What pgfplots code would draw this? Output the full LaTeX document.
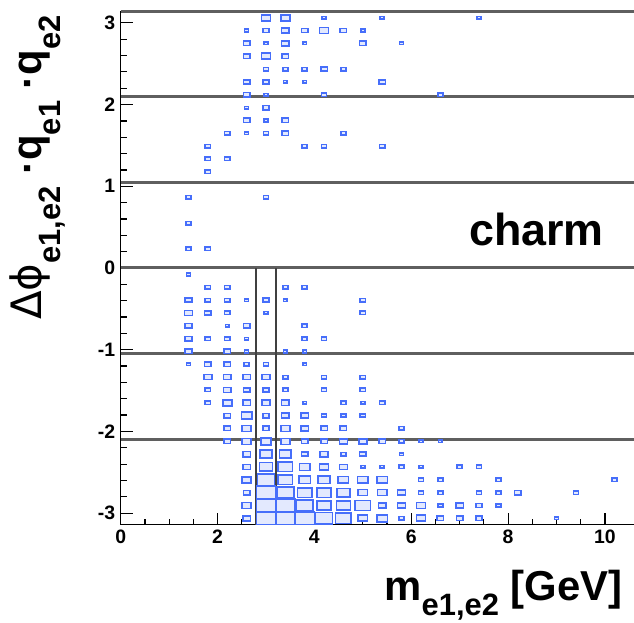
\documentclass[border=0pt]{standalone}
\usepackage{pgfplots}
\pgfplotsset{compat=1.18}
\usepackage{fontspec}
\setmainfont{Liberation Sans}
\newfontfamily\greekfont{DejaVu Sans}

\definecolor{boxblue}{RGB}{70,110,250}
\definecolor{sepgray}{RGB}{95,95,95}

% ROOT-style box: rectangle with the aspect ratio of one bin
\pgfdeclareplotmark{rbox}{%
  \pgfsetlinewidth{1.6bp}%
  \pgfpathrectangle{\pgfqpoint{-1.51\pgfplotmarksize}{-\pgfplotmarksize}}%
                   {\pgfqpoint{3.02\pgfplotmarksize}{2\pgfplotmarksize}}%
  \pgfusepathqfillstroke}

\newcommand{\tickfont}{\fontsize{19.5}{20}\selectfont\bfseries}
\newcommand{\labfont}{\fontsize{42}{46}\selectfont\bfseries}
\newcommand{\ysub}[1]{\raisebox{-0.45em}{\fontsize{31}{31}\selectfont #1}}
\newcommand{\xsub}[1]{\raisebox{-0.36em}{\fontsize{31}{31}\selectfont #1}}

\begin{document}
\begin{tikzpicture}
\begin{axis}[
    name=ax,
    scale only axis, width=513.3bp, height=513.4bp,
    xmin=0, xmax=10.6, ymin=-3.1416, ymax=3.1416,
    axis lines*=left,
    axis line style={-, line width=1.4bp, black},
    tick align=inside,
    xtick={0,2,4,6,8,10}, xticklabels={0,2,4,6,8,10},
    ytick={-3,-2,-1,0,1,2,3}, yticklabels={-3,-2,-1,0,1,2,3},
    minor x tick num=3, minor y tick num=4,
    major tick length=12bp, minor tick length=6bp,
    every tick/.style={black, line width=1.2bp},
    xticklabel style={font=\tickfont, yshift=-1.5bp},
    yticklabel style={font=\tickfont, xshift=-2bp},
    clip=false,
]
% s = box size level read off the picture (10 = full bin)
\addplot[scatter, only marks, mark=rbox,
    scatter/use mapped color={draw=boxblue, fill=boxblue!15},
    visualization depends on={min(6.4,0.864*\thisrow{s}-0.448) \as \msz},
    scatter/@pre marker code/.append style={/tikz/mark size=\msz},
] table[x=x, y=y] {
x y s
3.0 3.063 4
3.4 3.063 4
4.2 3.063 2
5.4 3.063 2
7.4 3.063 2
2.6 2.906 2
3.0 2.906 3
3.4 2.906 3.5
3.8 2.906 3
4.2 2.906 4
4.6 2.906 3
5.0 2.906 2
2.6 2.749 3
3.0 2.749 2
3.4 2.749 3.5
3.8 2.749 2
5.0 2.749 3
5.8 2.749 2
2.6 2.592 3
3.0 2.592 4
3.4 2.592 3
3.0 2.435 2.5
3.4 2.435 2.5
3.8 2.435 2.5
4.2 2.435 3
4.6 2.435 2.5
2.6 2.278 3
3.0 2.278 3
3.4 2.278 2
3.8 2.278 2
5.4 2.278 3
2.6 2.121 3
3.0 2.121 2
4.2 2.121 2.5
6.6 2.121 2.5
2.6 1.963 2
3.0 1.963 3
2.6 1.806 3
3.0 1.806 2
3.4 1.806 3
2.2 1.649 2.5
2.6 1.649 2
3.0 1.649 2.5
3.4 1.649 3
4.6 1.649 2.5
1.8 1.492 2.5
3.8 1.492 2.5
4.2 1.492 2.5
5.4 1.492 2.5
1.8 1.335 2.5
2.2 1.335 2.5
1.8 1.178 2.5
1.4 0.864 2.5
3.0 0.864 2.5
1.4 0.550 2.5
1.4 0.236 2.5
1.8 0.236 2.5
1.4 -0.079 2
1.8 -0.236 2.5
2.2 -0.236 2.5
3.4 -0.236 2.5
3.8 -0.236 2.5
1.4 -0.393 3
1.8 -0.393 2.5
2.2 -0.393 2.5
2.6 -0.393 2
3.0 -0.393 3
3.4 -0.393 2
5.0 -0.393 2.5
1.4 -0.550 3.5
1.8 -0.550 3
2.2 -0.550 2.5
3.0 -0.550 2
5.0 -0.550 2.5
1.4 -0.707 3
2.2 -0.707 2
2.6 -0.707 3
3.8 -0.707 2.5
1.4 -0.864 3
1.8 -0.864 2.5
2.2 -0.864 2.5
2.6 -0.864 2
3.8 -0.864 2.5
4.2 -0.864 2.5
1.4 -1.021 3
2.2 -1.021 3
2.6 -1.021 2
3.4 -1.021 2
3.8 -1.021 2
1.4 -1.178 2
1.8 -1.178 3
2.2 -1.178 3
2.6 -1.178 2.5
3.0 -1.178 2.5
3.8 -1.178 2
1.8 -1.335 3.5
2.2 -1.335 3.5
2.6 -1.335 3.5
3.0 -1.335 3.5
3.4 -1.335 2.5
4.2 -1.335 2.5
5.0 -1.335 2.5
1.8 -1.492 2.5
2.2 -1.492 3.5
2.6 -1.492 3
3.0 -1.492 3
3.4 -1.492 2.5
4.2 -1.492 2.5
5.0 -1.492 2.5
1.8 -1.649 2.5
2.2 -1.649 4
2.6 -1.649 3.5
3.0 -1.649 3.5
3.4 -1.649 3.5
3.8 -1.649 2
4.6 -1.649 2.5
5.0 -1.649 2
5.4 -1.649 2.5
2.2 -1.806 3
2.6 -1.806 4.5
3.0 -1.806 3
3.4 -1.806 3.5
3.8 -1.806 3.5
4.2 -1.806 2.5
4.6 -1.806 2.5
5.0 -1.806 2.5
2.2 -1.963 3
2.6 -1.963 4
3.0 -1.963 3
3.4 -1.963 4
3.8 -1.963 3.5
4.2 -1.963 3
4.6 -1.963 3
5.8 -1.963 2.5
2.2 -2.121 3
2.6 -2.121 4
3.0 -2.121 4.5
3.4 -2.121 4
3.8 -2.121 3
4.2 -2.121 3
4.6 -2.121 3.5
5.0 -2.121 3.5
5.4 -2.121 3
5.8 -2.121 2.5
6.2 -2.121 2
6.6 -2.121 2
2.6 -2.278 3.5
3.0 -2.278 5
3.4 -2.278 5
3.8 -2.278 3
4.2 -2.278 3.5
4.6 -2.278 2.5
5.0 -2.278 3
5.8 -2.278 2
2.6 -2.435 3.5
3.0 -2.435 5.5
3.4 -2.435 6
3.8 -2.435 4.5
4.2 -2.435 4
4.6 -2.435 3.5
5.0 -2.435 2
5.4 -2.435 2
5.8 -2.435 2.5
6.2 -2.435 2
7.0 -2.435 2.5
7.4 -2.435 2.5
2.6 -2.592 4
3.0 -2.592 7
3.4 -2.592 6
3.8 -2.592 5
4.2 -2.592 5
4.6 -2.592 4.5
5.0 -2.592 4.5
5.4 -2.592 4.5
6.2 -2.592 2.5
6.6 -2.592 2.5
7.8 -2.592 2.5
10.2 -2.592 2.5
2.6 -2.749 3
3.0 -2.749 8
3.4 -2.749 7
3.8 -2.749 6
4.2 -2.749 6
4.6 -2.749 5.5
5.0 -2.749 4
5.4 -2.749 4
5.8 -2.749 3.5
6.2 -2.749 2.5
6.6 -2.749 2.5
7.4 -2.749 2.5
7.8 -2.749 2.5
8.2 -2.749 3
9.4 -2.749 2.5
2.6 -2.906 4
3.0 -2.906 9
3.4 -2.906 8
3.8 -2.906 7
4.2 -2.906 6
4.6 -2.906 6
5.0 -2.906 6.5
5.4 -2.906 3.5
5.8 -2.906 3.5
6.2 -2.906 4
6.6 -2.906 2.5
7.0 -2.906 3.5
7.4 -2.906 3
7.8 -2.906 2.5
2.6 -3.063 3.5
3.0 -3.063 10
3.4 -3.063 10
3.8 -3.063 10
4.2 -3.063 7
4.6 -3.063 6.5
5.0 -3.063 4
5.4 -3.063 4.5
5.8 -3.063 2.5
6.2 -3.063 4
6.6 -3.063 3
7.0 -3.063 3
7.4 -3.063 3
9.0 -3.063 2
};
% separators at multiples of pi/3
\addplot[sepgray, line width=3bp, no marks] coordinates {(0,3.1416) (10.6,3.1416)};
\addplot[sepgray, line width=3bp, no marks] coordinates {(0,2.0944) (10.6,2.0944)};
\addplot[sepgray, line width=3bp, no marks] coordinates {(0,1.0472) (10.6,1.0472)};
\addplot[sepgray, line width=3bp, no marks] coordinates {(0,0) (10.6,0)};
\addplot[sepgray, line width=3bp, no marks] coordinates {(0,-1.0472) (10.6,-1.0472)};
\addplot[sepgray, line width=3bp, no marks] coordinates {(0,-2.0944) (10.6,-2.0944)};
% J/psi mass window
\addplot[black!75, line width=2bp, no marks] coordinates {(2.8,-3.1416) (2.8,0)};
\addplot[black!75, line width=2bp, no marks] coordinates {(3.2,-3.1416) (3.2,0)};

\node[anchor=base east, font=\fontsize{45}{50}\selectfont\bfseries]
    at (axis cs:10.05,0.27) {charm};
\node[anchor=base east, font=\labfont, inner sep=0pt]
    at ([yshift=-75.5bp]axis cs:10.36,-3.1416) {m\xsub{e1,e2} [GeV]};
\node[anchor=base east, rotate=90, font=\labfont, inner sep=0pt]
    at ([xshift=-78.7bp, yshift=-3.7bp]axis cs:0,3.1416)
    {{\greekfont\mdseries Δϕ}\ysub{e1,e2} ·q\ysub{e1} ·q\ysub{e2}};
\end{axis}
\pgfresetboundingbox
\path[use as bounding box] ([xshift=-120.7bp, yshift=-98.3bp]ax.south west)
    rectangle ([yshift=11.3bp]ax.north east);
\end{tikzpicture}
\end{document}
